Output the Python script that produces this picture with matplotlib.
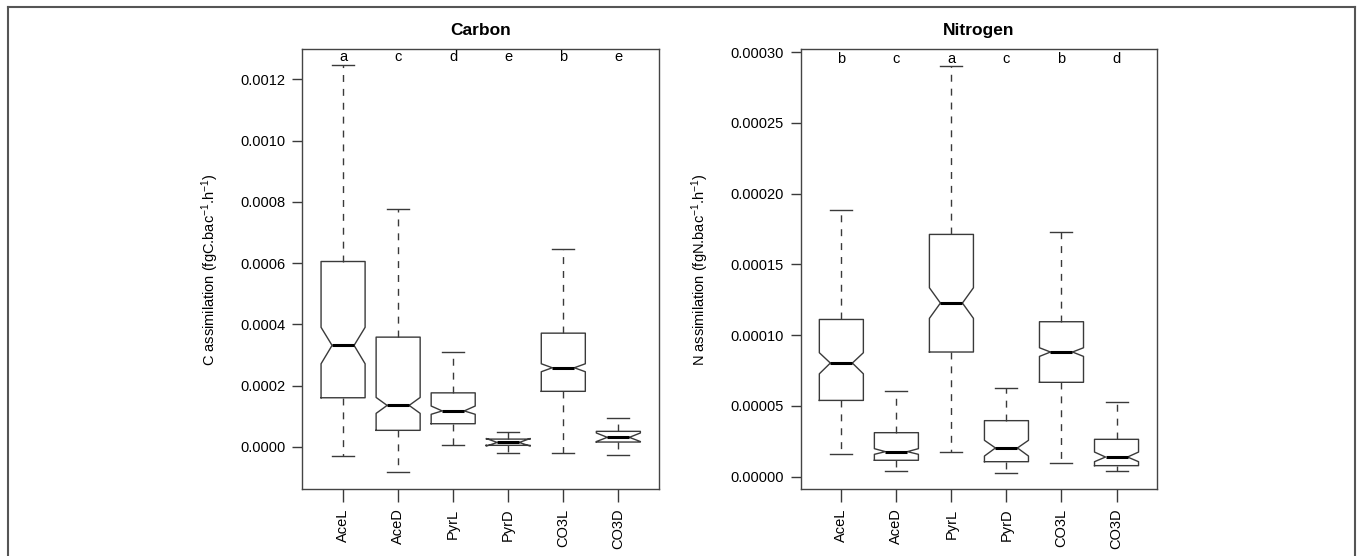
import matplotlib
matplotlib.use("Agg")
import matplotlib.pyplot as plt
from matplotlib.lines import Line2D
from matplotlib.ticker import FormatStrFormatter

plt.rcParams["font.family"] = ["Liberation Sans", "DejaVu Sans"]
plt.rcParams["mathtext.fontset"] = "custom"
plt.rcParams["mathtext.rm"] = "Liberation Sans"
plt.rcParams["mathtext.it"] = "Liberation Sans:italic"

groups = ["AceL", "AceD", "PyrL", "PyrD", "CO3L", "CO3D"]

# Carbon assimilation (fgC.bac-1.h-1)
c_lo = [-0.0000294, -0.0000837, 0.0000046, -0.0000206, -0.0000206, -0.0000261]
c_q1 = [0.000160, 0.0000536, 0.0000752, 0.0000046, 0.000181, 0.0000154]
c_cilo = [0.000271, 0.000109, 0.000106, 0.0000020, 0.000245, 0.0000170]
c_med = [0.000331, 0.000135, 0.000117, 0.0000140, 0.000258, 0.0000307]
c_cihi = [0.000390, 0.000161, 0.000133, 0.0000270, 0.000271, 0.0000450]
c_q3 = [0.000605, 0.000358, 0.000176, 0.0000250, 0.000371, 0.0000503]
c_hi = [0.001246, 0.000776, 0.000309, 0.0000470, 0.000646, 0.0000948]
c_letters = ["a", "c", "d", "e", "b", "e"]

# Nitrogen assimilation (fgN.bac-1.h-1)
n_lo = [0.0000158, 0.0000040, 0.0000174, 0.0000028, 0.0000095, 0.0000038]
n_q1 = [0.0000539, 0.0000116, 0.0000881, 0.0000106, 0.0000667, 0.0000078]
n_cilo = [0.0000727, 0.0000158, 0.0001119, 0.0000146, 0.0000850, 0.0000106]
n_med = [0.0000803, 0.0000177, 0.0001227, 0.0000203, 0.0000881, 0.0000139]
n_cihi = [0.0000876, 0.0000198, 0.0001335, 0.0000257, 0.0000911, 0.0000174]
n_q3 = [0.0001111, 0.0000311, 0.0001712, 0.0000396, 0.0001095, 0.0000264]
n_hi = [0.0001888, 0.0000603, 0.0002905, 0.0000626, 0.0001728, 0.0000530]
n_letters = ["b", "c", "a", "c", "b", "d"]

LINE = "#3a3a3a"


def make_stats(lo, q1, cilo, med, cihi, q3, hi):
    return [dict(whislo=a, q1=b, cilo=c, med=d, cihi=e, q3=f, whishi=g, fliers=[])
            for a, b, c, d, e, f, g in zip(lo, q1, cilo, med, cihi, q3, hi)]


def panel(ax, stats, letters, title, ylabel, ylim, yticks, fmt, letter_y):
    pos = list(range(1, len(groups) + 1))
    ax.bxp(stats, positions=pos, widths=0.8, shownotches=True, showfliers=False,
           boxprops=dict(color=LINE, linewidth=1.0),
           whiskerprops=dict(color=LINE, linewidth=1.0, linestyle=(0, (5, 5))),
           capprops=dict(color=LINE, linewidth=1.0),
           medianprops=dict(color="black", linewidth=2.2, solid_capstyle="butt"))
    ax.set_xlim(0.26, 6.74)
    ax.set_ylim(*ylim)
    ax.set_yticks(yticks)
    ax.yaxis.set_major_formatter(FormatStrFormatter(fmt))
    ax.set_xticks(pos)
    ax.set_xticklabels(groups, rotation=90)
    ax.tick_params(axis="both", direction="out", length=7, width=1, color=LINE,
                   labelsize=10.5, pad=5)
    ax.tick_params(axis="x", length=9)
    for s in ax.spines.values():
        s.set_color("#444444")
        s.set_linewidth(1.0)
    for x, t in zip(pos, letters):
        ax.text(x, letter_y, t, ha="center", va="center", fontsize=10.5)
    ax.set_title(title, fontsize=12.5, fontweight="bold", pad=10)
    ax.set_ylabel(ylabel, fontsize=10.5, labelpad=14)


fig = plt.figure(figsize=(13.57, 5.56), dpi=100)
ax1 = fig.add_axes([0.2228, 0.1205, 0.2629, 0.7908])
ax2 = fig.add_axes([0.5900, 0.1205, 0.2628, 0.7908])

panel(ax1, make_stats(c_lo, c_q1, c_cilo, c_med, c_cihi, c_q3, c_hi), c_letters,
      "Carbon", r"C assimilation (fgC.bac$^{-1}$.h$^{-1}$)",
      (-0.000138, 0.001298), [0, 0.0002, 0.0004, 0.0006, 0.0008, 0.0010, 0.0012],
      "%.4f", 0.001274)
panel(ax2, make_stats(n_lo, n_q1, n_cilo, n_med, n_cihi, n_q3, n_hi), n_letters,
      "Nitrogen", r"N assimilation (fgN.bac$^{-1}$.h$^{-1}$)",
      (-0.0000087, 0.000302), [0, 0.00005, 0.0001, 0.00015, 0.0002, 0.00025, 0.0003],
      "%.5f", 0.000295)

# outer frame (top, left, right)
W, H = 1357, 556
frame = dict(color="#555555", linewidth=1.5, transform=fig.transFigure)
fig.add_artist(Line2D([8 / W, 1355 / W], [1 - 6.5 / H, 1 - 6.5 / H], **frame))
fig.add_artist(Line2D([8 / W, 8 / W], [0, 1 - 6.5 / H], **frame))
fig.add_artist(Line2D([1355 / W, 1355 / W], [0, 1 - 6.5 / H], **frame))

fig.savefig("out.png", dpi=100)
